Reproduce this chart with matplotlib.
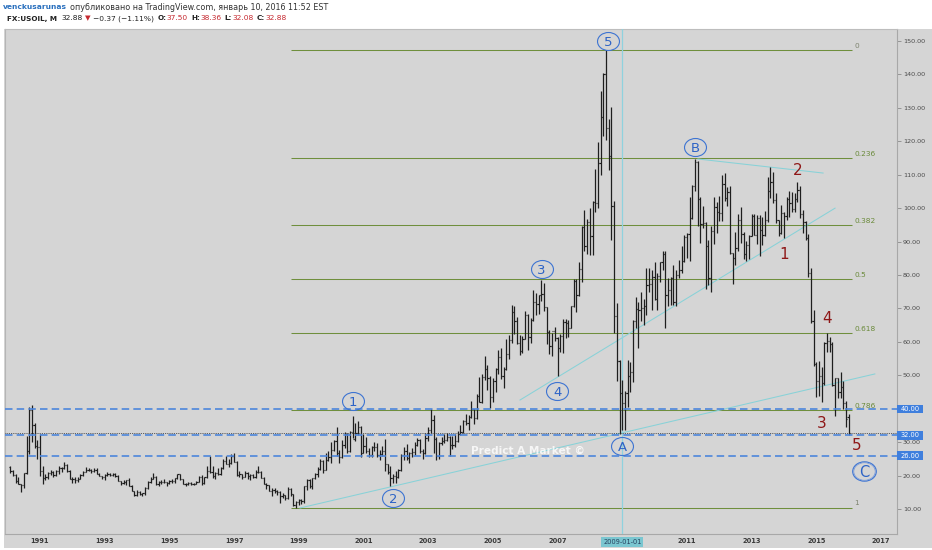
import matplotlib
matplotlib.use('Agg')
import matplotlib.pyplot as plt
import matplotlib.transforms as mtransforms
from matplotlib.patches import Rectangle
from matplotlib.path import Path
import numpy as np
import pandas as pd

# ---------------- data (monthly OHLC, FX:USOIL, Feb 1990 .. Jan 2016) ----------------
start_month = '1990-02-01'
opens = [
    22.7, 21.5, 20.3, 18.5, 17.4, 17.1, 20.7, 27.3, 39.5, 35.2, 28.9,                 # 1990
    28.4, 21.5, 19.2, 19.6, 20.8, 21.2, 20.1, 21.4, 22.2, 22.2, 23.3, 21.5,           # 1991
    19.1, 18.9, 18.7, 19.0, 20.2, 21.0, 21.8, 21.7, 21.5, 21.7, 20.6, 19.9,           # 1992
    19.5, 20.3, 20.4, 20.2, 20.5, 19.9, 18.4, 17.8, 18.2, 18.7, 16.9, 15.4,           # 1993
    14.2, 15.2, 14.5, 14.7, 16.4, 18.1, 19.1, 19.7, 17.5, 18.1, 18.2, 18.0,           # 1994
    17.8, 18.4, 18.5, 19.2, 20.4, 18.9, 17.4, 17.6, 17.8, 17.5, 17.6, 18.2,           # 1995
    19.6, 17.7, 19.5, 21.5, 21.2, 19.8, 20.9, 20.4, 22.2, 24.4, 23.4, 23.8,           # 1996
    25.9, 24.2, 20.3, 20.4, 19.7, 20.8, 19.8, 20.1, 19.6, 21.2, 21.1, 19.4,           # 1997
    17.6, 17.2, 15.4, 15.6, 15.4, 15.2, 13.9, 14.1, 13.4, 16.1, 14.4, 11.2,           # 1998
    12.1, 12.8, 12.3, 16.8, 18.7, 16.8, 19.3, 20.5, 22.1, 24.5, 21.8, 24.6,           # 1999
    25.6, 27.6, 30.4, 26.9, 25.7, 29.0, 32.5, 27.4, 33.1, 30.8, 32.7, 34.4,           # 2000
    26.8, 28.7, 27.4, 26.3, 28.5, 28.4, 26.3, 26.4, 27.2, 23.4, 21.2, 19.4,           # 2001
    19.8, 19.5, 21.7, 26.3, 27.3, 25.3, 26.9, 27.0, 29.0, 30.5, 27.2, 26.9,           # 2002
    31.2, 33.5, 36.6, 31.0, 25.8, 29.6, 30.2, 30.5, 31.6, 29.2, 29.1, 30.4,           # 2003
    32.5, 33.1, 36.2, 35.8, 37.4, 39.9, 37.1, 43.8, 42.1, 49.6, 51.8, 49.1,           # 2004
    43.5, 48.2, 51.8, 55.4, 49.7, 52.0, 56.5, 60.6, 68.9, 66.2, 59.8, 57.3,           # 2005
    61.0, 67.9, 61.4, 66.6, 71.9, 71.3, 73.9, 74.4, 70.3, 62.9, 58.7, 63.1,           # 2006
    61.1, 58.1, 61.8, 65.9, 65.7, 64.0, 70.7, 78.2, 74.0, 81.7, 94.5, 88.7,           # 2007
    96.0, 91.8, 101.8, 101.6, 113.5, 127.4, 140.0, 124.1, 115.5, 100.6, 67.8, 54.4,   # 2008
    44.6, 41.7, 44.8, 49.7, 51.1, 66.3, 69.9, 69.5, 70.0, 70.6, 77.0, 77.3,           # 2009
    79.4, 72.9, 79.7, 83.8, 86.2, 74.0, 75.6, 79.0, 71.9, 80.0, 81.4, 84.1,           # 2010
    91.4, 92.2, 97.0, 106.7, 113.9, 102.7, 95.4, 95.7, 88.8, 79.2, 93.2, 100.4,       # 2011
    98.8, 98.5, 107.1, 103.0, 104.9, 86.5, 85.0, 88.1, 96.5, 92.2, 86.2, 88.9,        # 2012
    91.8, 97.5, 92.1, 97.2, 93.5, 92.0, 96.6, 105.0, 107.7, 102.3, 96.4, 92.7,        # 2013
    98.4, 97.5, 102.6, 101.6, 99.7, 102.7, 105.4, 98.2, 96.0, 91.2, 80.5, 66.2,       # 2014
    53.3, 48.2, 49.8, 47.6, 59.6, 60.3, 59.5, 47.1, 49.2, 45.1, 46.6, 41.7,           # 2015
    37.5,                                                                             # 2016
]
highs = [
    23.0, 21.6, 20.6, 19.6, 17.6, 20.9, 31.9, 40.4, 41.2, 35.6, 30.5,
    32.5, 23.0, 20.4, 21.0, 21.6, 21.3, 21.7, 22.8, 22.6, 24.0, 23.6, 21.6,
    19.7, 19.5, 19.5, 20.5, 21.3, 22.6, 22.4, 21.9, 22.2, 22.3, 20.8, 20.0,
    20.6, 21.0, 20.8, 20.8, 20.7, 20.1, 18.5, 18.6, 18.8, 19.2, 17.2, 15.5,
    15.6, 15.5, 14.9, 16.7, 18.3, 19.7, 20.7, 19.8, 18.4, 18.7, 18.9, 18.1,
    18.7, 18.9, 19.3, 20.6, 20.5, 19.1, 17.8, 18.2, 18.1, 17.8, 18.4, 19.8,
    20.1, 19.7, 22.8, 25.9, 22.8, 21.2, 22.3, 22.5, 25.0, 25.9, 25.0, 26.6,
    26.7, 24.4, 21.3, 20.6, 21.5, 21.0, 20.4, 20.6, 21.6, 23.0, 21.4, 19.5,
    17.8, 17.3, 16.4, 16.3, 15.6, 15.3, 14.8, 14.2, 16.6, 16.2, 14.6, 12.4,
    13.1, 13.0, 16.9, 19.0, 19.0, 19.4, 20.8, 22.6, 25.0, 24.6, 26.9, 27.4,
    30.0, 30.6, 34.4, 27.6, 30.7, 33.1, 32.7, 33.4, 37.8, 35.7, 36.2, 34.9,
    32.3, 31.6, 28.3, 28.8, 29.9, 29.6, 27.6, 28.8, 31.0, 23.6, 23.0, 20.4,
    21.4, 21.9, 26.5, 28.4, 29.4, 27.0, 28.1, 30.0, 31.2, 30.8, 27.9, 32.7,
    34.6, 40.0, 38.1, 31.6, 30.0, 31.6, 32.4, 32.6, 31.8, 31.8, 32.4, 33.3,
    35.2, 36.6, 38.3, 38.2, 42.3, 40.0, 44.3, 49.4, 50.5, 55.7, 53.0, 49.9,
    49.2, 52.1, 57.6, 58.3, 52.5, 60.9, 62.1, 70.9, 70.6, 67.3, 62.1, 61.9,
    69.2, 68.3, 67.2, 75.4, 74.7, 73.9, 78.4, 77.7, 70.5, 63.6, 62.6, 64.3,
    61.5, 62.3, 66.7, 66.9, 66.6, 70.8, 78.8, 78.8, 83.9, 94.7, 99.3, 96.8,
    100.1, 102.1, 111.8, 119.9, 135.1, 140.4, 147.3, 126.6, 130.3, 102.0, 71.5, 54.6,
    48.6, 45.3, 54.7, 53.9, 66.6, 73.4, 72.0, 75.0, 72.9, 82.0, 82.0, 81.4,
    83.9, 80.5, 83.9, 87.2, 87.2, 79.2, 79.4, 83.0, 81.6, 84.4, 88.6, 92.1,
    92.6, 103.4, 106.9, 114.8, 114.2, 103.4, 100.6, 95.8, 90.5, 94.6, 103.4, 101.8,
    103.7, 109.8, 110.6, 106.3, 106.5, 86.7, 92.9, 98.3, 100.4, 93.0, 90.3, 91.9,
    98.2, 98.2, 97.8, 97.8, 97.4, 99.0, 109.3, 112.2, 110.7, 104.4, 96.6, 100.8,
    98.8, 103.4, 105.2, 104.9, 104.5, 107.7, 106.5, 99.4, 96.2, 92.2, 82.2, 69.5,
    54.0, 54.2, 52.5, 59.9, 62.6, 61.6, 59.9, 49.3, 49.2, 50.9, 48.4, 42.4,
    38.36,
]
lows = [
    20.9, 19.8, 17.9, 17.4, 15.1, 16.3, 20.4, 26.6, 29.9, 28.1, 25.0,
    20.0, 17.6, 18.6, 19.0, 20.1, 19.5, 19.8, 20.6, 21.2, 21.9, 21.1, 18.9,
    17.9, 17.9, 18.1, 18.9, 19.9, 21.0, 21.4, 20.8, 21.2, 20.4, 19.8, 18.9,
    18.8, 19.9, 19.9, 19.9, 19.5, 18.3, 17.3, 17.6, 17.3, 16.8, 15.4, 13.9,
    14.0, 14.2, 14.0, 14.3, 16.1, 17.8, 18.9, 17.3, 16.9, 17.4, 17.8, 16.9,
    17.4, 17.9, 17.8, 19.1, 18.8, 17.4, 16.9, 17.2, 17.2, 17.1, 17.6, 18.1,
    17.1, 17.6, 19.3, 20.8, 19.3, 19.1, 20.2, 20.2, 21.9, 23.4, 22.5, 23.6,
    24.0, 20.0, 19.6, 19.1, 19.5, 18.9, 18.7, 19.3, 19.2, 20.7, 19.3, 17.4,
    16.1, 15.3, 13.8, 14.7, 14.3, 11.7, 13.2, 12.6, 12.9, 13.9, 11.0, 10.4,
    11.3, 11.4, 11.9, 15.7, 16.3, 16.0, 19.1, 19.7, 21.8, 20.8, 21.6, 24.3,
    23.9, 27.3, 26.0, 23.7, 25.3, 28.2, 26.9, 27.1, 31.2, 30.4, 32.2, 25.5,
    26.7, 26.7, 25.7, 25.5, 27.3, 25.5, 24.8, 25.9, 21.3, 20.5, 17.0, 17.8,
    17.9, 19.3, 21.5, 24.8, 24.7, 23.9, 25.7, 26.2, 28.7, 26.7, 25.1, 26.5,
    30.2, 32.7, 26.9, 24.8, 25.1, 29.0, 29.8, 30.3, 25.8, 28.0, 28.5, 29.9,
    32.2, 32.6, 35.1, 33.6, 37.3, 35.4, 36.9, 42.0, 41.6, 48.6, 45.7, 40.3,
    42.1, 45.0, 50.4, 49.0, 46.2, 51.6, 55.0, 59.8, 62.3, 59.3, 56.1, 56.7,
    60.9, 57.6, 59.6, 66.1, 68.0, 68.2, 72.1, 69.2, 59.5, 56.5, 55.7, 60.2,
    49.9, 56.9, 56.6, 61.2, 61.4, 64.0, 70.4, 69.0, 73.7, 77.9, 87.1, 86.2,
    86.1, 86.0, 98.7, 100.1, 109.9, 121.6, 120.4, 111.3, 90.5, 62.5, 48.4, 32.4,
    33.6, 33.6, 40.4, 45.1, 48.1, 64.1, 58.3, 66.1, 65.1, 68.0, 75.0, 69.5,
    72.4, 69.5, 77.9, 81.6, 64.2, 70.8, 71.1, 71.1, 70.8, 79.0, 80.5, 84.0,
    85.1, 84.1, 96.9, 105.0, 94.6, 89.6, 94.0, 75.7, 77.1, 74.9, 89.2, 92.5,
    96.3, 96.2, 102.1, 100.7, 86.3, 77.3, 83.0, 87.2, 89.6, 84.9, 84.1, 84.9,
    91.8, 92.0, 89.3, 85.6, 89.0, 91.8, 95.8, 103.1, 101.5, 95.7, 91.8, 92.4,
    91.2, 96.4, 97.4, 98.7, 98.9, 101.8, 97.2, 92.5, 90.4, 79.4, 65.7, 52.7,
    43.6, 43.9, 42.0, 47.0, 57.0, 57.0, 46.7, 37.8, 43.2, 43.2, 39.8, 34.5,
    32.08,
]
closes = [
    21.5, 20.3, 18.5, 17.4, 17.1, 20.7, 27.3, 39.5, 35.2, 28.9, 28.4,
    21.5, 19.2, 19.6, 20.8, 21.2, 20.1, 21.4, 22.2, 22.2, 23.3, 21.5, 19.1,
    18.9, 18.7, 19.0, 20.2, 21.0, 21.8, 21.7, 21.5, 21.7, 20.6, 19.9, 19.5,
    20.3, 20.4, 20.2, 20.5, 19.9, 18.4, 17.8, 18.2, 18.7, 16.9, 15.4, 14.2,
    15.2, 14.5, 14.7, 16.4, 18.1, 19.1, 19.7, 17.5, 18.1, 18.2, 18.0, 17.8,
    18.4, 18.5, 19.2, 20.4, 18.9, 17.4, 17.6, 17.8, 17.5, 17.6, 18.2, 19.6,
    17.7, 19.5, 21.5, 21.2, 19.8, 20.9, 20.4, 22.2, 24.4, 23.4, 23.8, 25.9,
    24.2, 20.3, 20.4, 19.7, 20.8, 19.8, 20.1, 19.6, 21.2, 21.1, 19.4, 17.6,
    17.2, 15.4, 15.6, 15.4, 15.2, 13.9, 14.1, 13.4, 16.1, 14.4, 11.2, 12.1,
    12.8, 12.3, 16.8, 18.7, 16.8, 19.3, 20.5, 22.1, 24.5, 21.8, 24.6, 25.6,
    27.6, 30.4, 26.9, 25.7, 29.0, 32.5, 27.4, 33.1, 30.8, 32.7, 34.4, 26.8,
    28.7, 27.4, 26.3, 28.5, 28.4, 26.3, 26.4, 27.2, 23.4, 21.2, 19.4, 19.8,
    19.5, 21.7, 26.3, 27.3, 25.3, 26.9, 27.0, 29.0, 30.5, 27.2, 26.9, 31.2,
    33.5, 36.6, 31.0, 25.8, 29.6, 30.2, 30.5, 31.6, 29.2, 29.1, 30.4, 32.5,
    33.1, 36.2, 35.8, 37.4, 39.9, 37.1, 43.8, 42.1, 49.6, 51.8, 49.1, 43.5,
    48.2, 51.8, 55.4, 49.7, 52.0, 56.5, 60.6, 68.9, 66.2, 59.8, 57.3, 61.0,
    67.9, 61.4, 66.6, 71.9, 71.3, 73.9, 74.4, 70.3, 62.9, 58.7, 63.1, 61.1,
    58.1, 61.8, 65.9, 65.7, 64.0, 70.7, 78.2, 74.0, 81.7, 94.5, 88.7, 96.0,
    91.8, 101.8, 101.6, 113.5, 127.4, 140.0, 124.1, 115.5, 100.6, 67.8, 54.4, 44.6,
    41.7, 44.8, 49.7, 51.1, 66.3, 69.9, 69.5, 70.0, 70.6, 77.0, 77.3, 79.4,
    72.9, 79.7, 83.8, 86.2, 74.0, 75.6, 79.0, 71.9, 80.0, 81.4, 84.1, 91.4,
    92.2, 97.0, 106.7, 113.9, 102.7, 95.4, 95.7, 88.8, 79.2, 93.2, 100.4, 98.8,
    98.5, 107.1, 103.0, 104.9, 86.5, 85.0, 88.1, 96.5, 92.2, 86.2, 88.9, 91.8,
    97.5, 92.1, 97.2, 93.5, 92.0, 96.6, 105.0, 107.7, 102.3, 96.4, 92.7, 98.4,
    97.5, 102.6, 101.6, 99.7, 102.7, 105.4, 98.2, 96.0, 91.2, 80.5, 66.2, 53.3,
    48.2, 49.8, 47.6, 59.6, 60.3, 59.5, 47.1, 49.2, 45.1, 46.6, 41.7, 37.0,
    32.88,
]

year_ticks = [1991, 1993, 1995, 1997, 1999, 2001, 2003, 2005, 2007, 2011, 2013, 2015, 2017]
price_ticks = [10, 20, 30, 50, 60, 70, 80, 90, 100, 110, 120, 130, 140, 150]   # 40.00 hidden under its tag

# Fibonacci retracement
fib_high = 147.27
fib_low = 10.35
fib_ratios = [0, 0.236, 0.382, 0.5, 0.618, 0.786, 1]
fib_labels = ['0', '0.236', '0.382', '0.5', '0.618', '0.786', '1']
fib_start, fib_end = 1998.76, 2016.10

# horizontal levels
blue_levels = [40, 32, 26]
crosshair_date = 2009.0

# trendlines (year, price) pairs
trend_a = ([1999.04, 2016.81], [10.3, 50.4])
trend_b = ([2005.84, 2015.58], [42.6, 100.0])
trend_c = ([2011.34, 2015.21], [114.7, 110.5])

# wave labels
circle_labels = ['1', '2', '3', '4', '5', 'A', 'B', 'C']
circle_x = [2000.667, 2001.923, 2006.51, 2006.99, 2008.57, 2009.0, 2011.25, 2016.48]
circle_y = [42.4, 13.4, 81.9, 45.4, 150.1, 28.9, 118.4, 21.4]
red_labels = ['1', '2', '3', '4', '5']
red_x = [2014.0, 2014.41, 2015.17, 2015.32, 2016.25]
red_y = [86.2, 111.4, 35.6, 67.0, 28.85]

# ---------------- figure ----------------
W, H = 932, 550
fig = plt.figure(figsize=(W / 100, H / 100), dpi=100, facecolor='white')
BG = '#d5d5d5'
fig.patches.append(Rectangle((4 / W, 2 / H), (W - 4) / W, 519 / H, transform=fig.transFigure,
                             facecolor=BG, edgecolor='none', zorder=-5))

ax = fig.add_axes([5 / W, 16 / H, 892 / W, 505 / H])
ax.set_zorder(1)
ax.set_facecolor(BG)
ax.set_xlim(1989.918, 2017.495)
ax.set_ylim(2.52, 153.59)

for side, sp in ax.spines.items():
    sp.set_color('#a8a8a8')
    sp.set_linewidth(0.8)
ax.spines['top'].set_color('#bdbdbd')
ax.spines['left'].set_color('#b5b5b5')

dates = pd.date_range(start_month, periods=len(closes), freq='MS')
t = dates.year.values + (dates.month.values - 1) / 12.0
o = np.array(opens); h = np.array(highs); l = np.array(lows); c = np.array(closes)

bar_col = '#1e1e1e'
tick = 0.036
ax.vlines(t, l, h, color=bar_col, lw=0.9, zorder=4)
ax.hlines(o, t - tick, t, color=bar_col, lw=0.85, zorder=4)
ax.hlines(c, t, t + tick, color=bar_col, lw=0.85, zorder=4)

# fib retracement
fib_col = '#6f8f3d'
for r, lab in zip(fib_ratios, fib_labels):
    lvl = fib_high - r * (fib_high - fib_low)
    ax.hlines(lvl, fib_start, fib_end, color=fib_col, lw=0.75, zorder=2)
    tc = '#7e8470' if lab in ('0', '1') else '#6a8a3a'
    ax.text(fib_end + 0.08, lvl + 0.4, lab, color=tc, fontsize=5.3, ha='left', va='bottom', zorder=3)

# trendlines and crosshair
tl_col = '#88d2d8'
for xs, ys in (trend_a, trend_b, trend_c):
    ax.plot(xs, ys, color=tl_col, lw=0.75, zorder=3)
ax.axvline(crosshair_date, color='#8fd2de', lw=0.9, zorder=3)

# horizontal dashed levels
blue = '#4d86dc'
for lvl in blue_levels:
    ax.axhline(lvl, color=blue, lw=1.2, ls=(0, (4.5, 2.5)), zorder=5)
ax.axhline(closes[-1], color='#333333', lw=0.6, ls=(0, (1, 1.2)), zorder=5)

# watermark
ax.text(2006.09, 27.35, 'Predict A Market \u00a9', color='white', alpha=0.8, fontsize=7.6,
        fontweight='bold', ha='center', va='center', zorder=6)

# wave labels: elliptical rings drawn as a custom marker
ring = Path.unit_circle().transformed(mtransforms.Affine2D().scale(1.22, 1.0))
wave_blue = '#2d63c6'
ax.plot(circle_x[:-1], circle_y[:-1], ls='none', marker=ring, ms=15.8, mfc='none',
        mec='#3d74d2', mew=0.8, zorder=8)
ax.plot(circle_x[-1:], circle_y[-1:], ls='none', marker=ring, ms=17, mfc='none',
        mec='#3d74d2', mew=0.8, zorder=8)
ax.plot(circle_x[-1:], circle_y[-1:], ls='none', marker=ring, ms=15.4, mfc='none',
        mec='#6f95da', mew=0.5, zorder=8)
for s, x, y in zip(circle_labels, circle_x, circle_y):
    ax.text(x, y, s, color=wave_blue, fontsize=9.5 if s != 'C' else 10.5, ha='center',
            va='center_baseline', zorder=9)
for s, x, y in zip(red_labels, red_x, red_y):
    ax.text(x, y, s, color='#8e1717', fontsize=11, ha='center', va='center', zorder=8)

# axes ticks
ax.yaxis.tick_right()
ax.set_yticks(price_ticks)
ax.set_yticklabels([f'{v:.2f}' for v in price_ticks])
ax.tick_params(axis='y', length=3, width=0.6, color='#8a8a8a', pad=1.2, labelsize=4.6, labelcolor='#4a4a4a')
ax.set_xticks(year_ticks)
ax.set_xticklabels([str(y) for y in year_ticks])
ax.tick_params(axis='x', length=0, pad=3.2, labelsize=4.8, labelcolor='#3a3a3a')
for lb in ax.get_xticklabels():
    lb.set_fontweight('bold')

# price tags on right axis
blend = mtransforms.blended_transform_factory(ax.transAxes, ax.transData)
tag_w = 26 / 892
for lvl in blue_levels:
    ax.add_patch(Rectangle((1.0, lvl - 1.25), tag_w, 2.5, transform=blend, facecolor='#3f7fdd',
                           edgecolor='none', clip_on=False, zorder=20))
    ax.text(1.0 + tag_w / 2, lvl, f'{lvl:.2f}', transform=blend, color='white', fontsize=4.8,
            ha='center', va='center', clip_on=False, zorder=21)

# date tag on bottom axis
blend_x = mtransforms.blended_transform_factory(ax.transData, ax.transAxes)
ax.text(crosshair_date, -7.5 / 505, pd.Timestamp('2009-01-01').strftime('%Y-%m-%d'), transform=blend_x,
        color='#27405e', fontsize=4.8, ha='center', va='center', clip_on=False, zorder=21,
        bbox=dict(boxstyle='square,pad=0.3', fc='#7ac6d0', ec='none'))

# header (segments placed one after another)
renderer = fig.canvas.get_renderer()

def seq(x_px, y_px, parts):
    x = x_px
    for s, color, weight, size, gap in parts:
        tx = fig.text(x / W, 1 - y_px / H, s, ha='left', va='center', color=color,
                      fontweight=weight, fontsize=size)
        x += tx.get_window_extent(renderer).width + gap

dark = '#222222'; red = '#c62a31'
seq(3, 7, [('venckusarunas', '#2a70be', 'bold', 5.4, 3),
           ('опубликовано на TradingView.com, январь 10, 2016 11:52 EST', '#333333', 'normal', 5.8, 0)])
seq(7, 18.5, [('FX:USOIL, M', dark, 'bold', 5.2, 4),
              (f'{closes[-1]:.2f}', dark, 'normal', 5.4, 3),
              ('\u25bc', red, 'normal', 5.2, 2.5),
              ('\u22120.37 (\u22121.11%)', dark, 'normal', 5.4, 3),
              ('O:', dark, 'bold', 5.2, 0.5), (f'{opens[-1]:.2f}', red, 'normal', 5.4, 3),
              ('H:', dark, 'bold', 5.2, 0.5), (f'{highs[-1]:.2f}', red, 'normal', 5.4, 3),
              ('L:', dark, 'bold', 5.2, 0.5), (f'{lows[-1]:.2f}', red, 'normal', 5.4, 3),
              ('C:', dark, 'bold', 5.2, 0.5), (f'{closes[-1]:.2f}', red, 'normal', 5.4, 0)])

fig.savefig('out.png', dpi=100, facecolor='white')
